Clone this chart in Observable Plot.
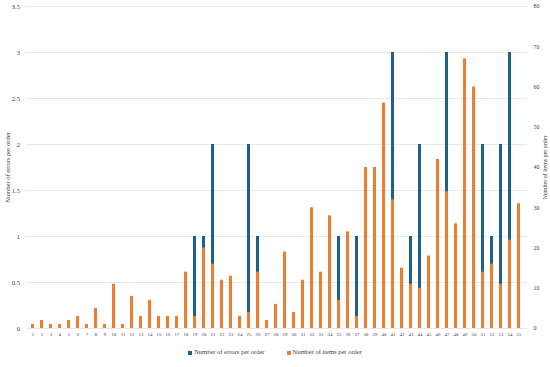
<!DOCTYPE html>
<html>
<head>
<meta charset="utf-8">
<script src="https://cdn.jsdelivr.net/npm/d3@7"></script>
<script src="https://cdn.jsdelivr.net/npm/@observablehq/plot@0.6"></script>
<style>
  body { margin: 0; background: #fff; font-family: "Liberation Serif", serif; }
  #chart { width: 550px; }
  .legend { display: flex; justify-content: center; gap: 22px; font-size: 6.5px; color: #404040; margin-top: 6px; margin-left: 0px; }
  .legend span.sw { display: inline-block; width: 4px; height: 4px; margin-right: 2px; vertical-align: middle; }
</style>
</head>
<body>
<div id="chart"></div>
<script>
const categories = ["1","2","3","4","5","6","7","8","9","10","11","12","13","14","15","16","17","18","19","20","21","22","23","24","25","26","27","28","29","30","31","32","33","34","35","36","37","38","39","40","41","42","43","44","45","46","47","48","49","50","51","52","53","54","55"];
const errorsPerOrder = [0,0,0,0,0,0,0,0,0,0,0,0,0,0,0,0,0,0,1,1,2,0,0,0,2,1,0,0,0,0,0,0,0,0,1,0,1,0,0,0,3,0,1,2,0,0,3,0,0,0,2,1,2,3,0];
const itemsPerOrder = [1,2,1,1,2,3,1,5,1,11,1,8,3,7,3,3,3,14,3,20,16,12,13,3,4,14,2,6,19,4,12,30,14,28,7,24,3,40,40,56,32,15,11,10,18,42,34,26,67,60,14,16,11,22,31];
const leftTicks = [0, 0.5, 1, 1.5, 2, 2.5, 3, 3.5];
const rightTicks = [0, 10, 20, 30, 40, 50, 60, 70, 80];
const seriesNames = ["Number of errors per order", "Number of items per order"];
const colors = ["#1f5f8b", "#ed7d31"];

const leftMax = 3.5, rightMax = 80;
const k = leftMax / rightMax;
const rows = categories.map((c, i) => ({cat: c, errors: errorsPerOrder[i], items: itemsPerOrder[i], itemsScaled: itemsPerOrder[i] * k}));

const plot = Plot.plot({
  width: 550,
  height: 342,
  marginLeft: 25.4,
  marginRight: 23,
  marginTop: 6,
  marginBottom: 14,
  style: {fontFamily: "Liberation Serif, serif", background: "#fff", color: "#404040"},
  x: {type: "band", domain: categories, paddingInner: 0.62, paddingOuter: 0.31},
  y: {domain: [0, leftMax]},
  marks: [
    Plot.gridY(leftTicks, {stroke: "#e3e3e3", strokeOpacity: 1, strokeWidth: 0.8}),
    Plot.barY(rows, {x: "cat", y: "errors", fill: colors[0]}),
    Plot.barY(rows, {x: "cat", y: "itemsScaled", fill: colors[1]}),
    Plot.axisX({tickSize: 0, tickPadding: 4, fontSize: 4.8, label: null}),
    Plot.axisY(leftTicks, {anchor: "left", tickSize: 0, tickPadding: 6, fontSize: 6.5, tickFormat: d => String(d), label: seriesNames[0], labelAnchor: "center", labelArrow: "none", labelOffset: 21}),
    Plot.axisY(rightTicks.map(v => v * k), {anchor: "right", tickSize: 0, tickPadding: 6, fontSize: 6, tickFormat: d => String(Math.round(d / k)), label: seriesNames[1], labelAnchor: "center", labelArrow: "none", labelOffset: 19})
  ]
});
document.getElementById("chart").appendChild(plot);

const legend = document.createElement("div");
legend.className = "legend";
seriesNames.forEach((name, i) => {
  const item = document.createElement("div");
  const sw = document.createElement("span");
  sw.className = "sw";
  sw.style.background = colors[i];
  item.appendChild(sw);
  item.appendChild(document.createTextNode(name));
  legend.appendChild(item);
});
document.getElementById("chart").appendChild(legend);
</script>
</body>
</html>
